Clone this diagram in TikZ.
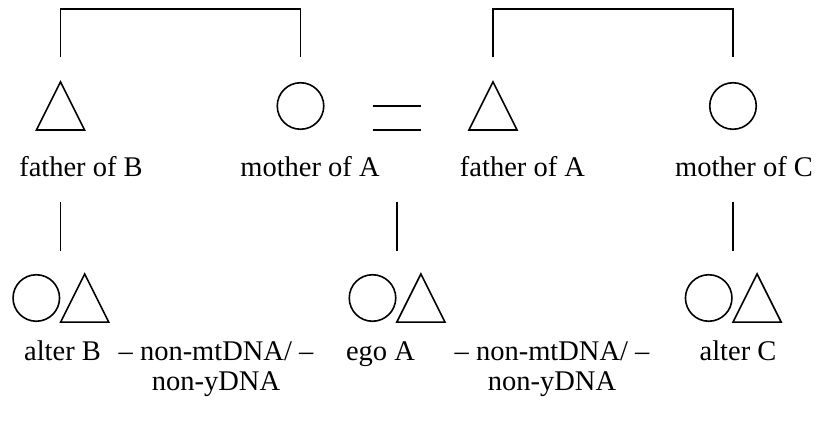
\documentclass[tikz,border=0pt]{standalone}
\usepackage{fontspec}
\setmainfont{Liberation Serif}
\usetikzlibrary{calc}
\newcommand{\maletri}[1]{\draw (#1.south west) -- (#1.north) -- (#1.south east) -- cycle;}
\tikzset{
  female/.style={circle,draw,minimum size=46.5pt,inner sep=0pt},
  male/.style={rectangle,minimum size=46.5pt,inner sep=0pt},
  kinlabel/.style={font=\fontsize{28.5}{30}\selectfont,anchor=base,inner sep=0pt,align=center},
}
\begin{document}
\begin{tikzpicture}[x=1pt,y=-1pt,line width=1.6pt]
\useasboundingbox (0,0) rectangle (819,430);

% parents
\node[male] (fB) at (60.5,106) {};
\node[female] (mA) at (300.5,106) {};
\node[male] (fA) at (493,106) {};
\node[female] (mC) at (733,106) {};
\maletri{fB}
\maletri{fA}

\node[kinlabel] (lfB) at (81,176.5) {father of B};
\node[kinlabel] (lmA) at (310,176.5) {mother of A};
\node[kinlabel] (lfA) at (522.5,176.5) {father of A};
\node[kinlabel] (lmC) at (744,176.5) {mother of C};

% siblings and marriage
\draw ([yshift=24.5pt]fB.north) -- ++(0,-48.5) -| ([yshift=24.5pt]mA.north);
\draw ([yshift=24.5pt]fA.north) -- ++(0,-48.5) -| ([yshift=24.5pt]mC.north);
\draw ([xshift=48pt]mA.east) -- ([xshift=-48pt]fA.west);
\draw ([shift={(48pt,-24pt)}]mA.east) -- ([shift={(-48pt,-24pt)}]fA.west);
\coordinate (mar) at ($(mA.east)!0.5!(fA.west)$);

% children
\node[female] (aBf) at (36.3,298) {};
\node[male] (aBm) at (84.7,298) {};
\node[female] (eAf) at (372.5,298) {};
\node[male] (eAm) at (420.9,298) {};
\node[female] (aCf) at (708.7,298) {};
\node[male] (aCm) at (757.1,298) {};
\maletri{aBm}
\maletri{eAm}
\maletri{aCm}

\draw (fB |- 0,201.7) -- (fB |- 0,250.7);
\draw (mar |- 0,201.7) -- (mar |- 0,250.7);
\draw (mC |- 0,201.7) -- (mC |- 0,250.7);

\node[kinlabel] (laB) at (62.5,360) {alter B};
\node[kinlabel] (leA) at (380.5,360) {ego A};
\node[kinlabel] (laC) at (738,360) {alter C};
\node[kinlabel] (nBA) at (216,390) {– non-mtDNA/ –\\non-yDNA};
\node[kinlabel] (nAC) at (552,390) {– non-mtDNA/ –\\non-yDNA};
\end{tikzpicture}
\end{document}
